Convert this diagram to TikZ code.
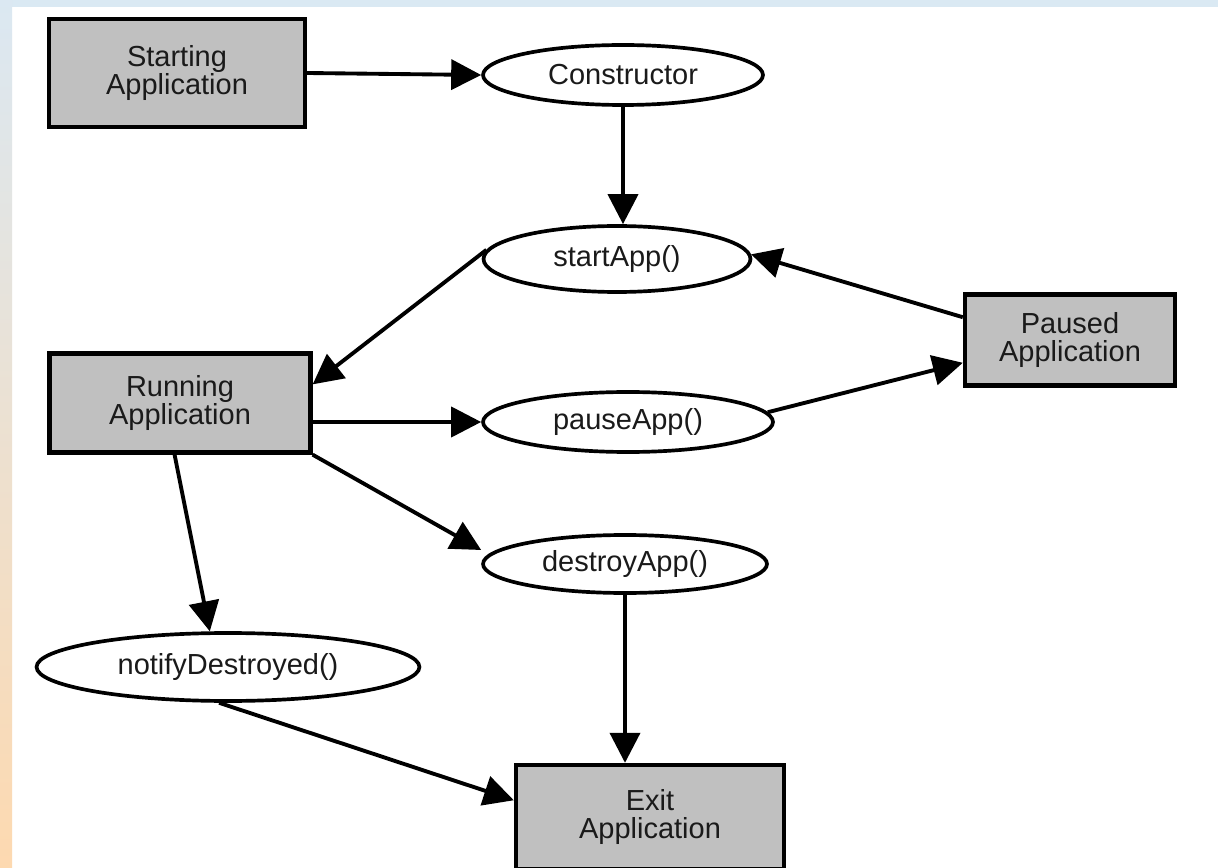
\documentclass[tikz,border=0pt]{standalone}
\usepackage{fontspec}
\setmainfont{Liberation Sans}
\usepackage{tikz}
\usetikzlibrary{arrows.meta,shapes.geometric,positioning}
\usepackage{xcolor}
\definecolor{bandBlue}{HTML}{DAE9F3}
\definecolor{stripTop}{HTML}{DBE8F2}
\definecolor{stripBottom}{HTML}{FDD9B0}
\definecolor{boxGray}{HTML}{C0C0C0}
\definecolor{inkText}{HTML}{1A1A1A}

\begin{document}
\begin{tikzpicture}[
  x=0.02cm, y=-0.02cm,
  font=\fontsize{16.5}{15.5}\selectfont,
  >={Triangle[length=0.6cm,width=0.6cm]},
  state/.style={draw, line width=2.5pt, fill=boxGray, text=inkText, align=center, inner sep=0pt},
  call/.style={draw, ellipse, line width=2.1pt, fill=white, text=inkText, inner sep=0pt},
  arrow/.style={->, line width=2.2pt},
]

% --- page frame ---
\useasboundingbox (0,0) rectangle (1218,868);
\fill[white] (0,0) rectangle (1218,868);
\fill[bandBlue] (0,0) rectangle (1218,7);
\shade[top color=stripTop, bottom color=stripBottom] (0,0) rectangle (12,868);

% --- states and calls ---
\node[state, minimum width=5.12cm, minimum height=2.16cm] (startA) at (177,73) {Starting\\Application};
\node[call, minimum width=5.6cm, minimum height=1.2cm] (ctor) at (623,75) {Constructor};
\node[call, minimum width=5.34cm, minimum height=1.32cm] (startApp) at (617,259) {startApp()};
\node[state, minimum width=4.2cm, minimum height=1.82cm] (paused) at (1070,340) {Paused\\Application};
\node[state, minimum width=5.22cm, minimum height=1.98cm] (running) at (180,403) {Running\\Application};
\node[call, minimum width=5.8cm, minimum height=1.2cm] (pauseApp) at (628,422) {pauseApp()};
\node[call, minimum width=5.68cm, minimum height=1.16cm] (destroyApp) at (625,564) {destroyApp()};
\node[call, minimum width=7.66cm, minimum height=1.36cm] (notify) at (228,667) {notifyDestroyed()};
\node[state, minimum width=5.36cm, minimum height=2.08cm] (exitA) at (650,817) {Exit\\Application};

% --- connectors ---
\draw[arrow] (startA.east) -- (ctor.west);
\draw[arrow] (ctor.south) -- (ctor.south |- startApp.north);
\draw[arrow] (startApp.176) -- (running.8);
\draw[arrow] (paused.168) -- (startApp.2);
\draw[arrow] (running.east |- pauseApp.west) -- (pauseApp.west);
\draw[arrow] (pauseApp.4) -- (paused.-168);
\draw[arrow] (running.south east) -- ([yshift=0.28cm]destroyApp.west);
\draw[arrow] (running.-96) -- (notify.117);
\draw[arrow] (notify.-104) -- (exitA.173);
\draw[arrow] (destroyApp.south) -- (destroyApp.south |- exitA.north);

\end{tikzpicture}
\end{document}
